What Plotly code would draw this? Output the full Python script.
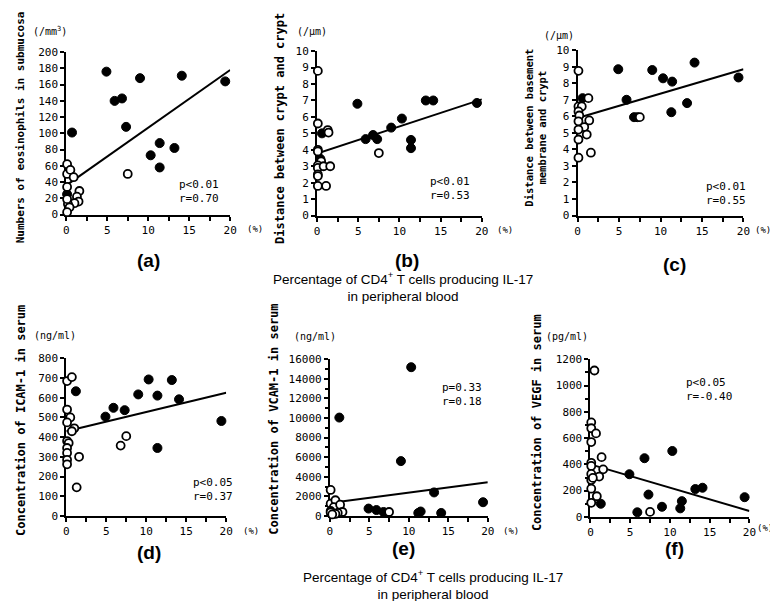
import plotly.graph_objects as go

W, H = 778, 601

# ---------------- data ----------------
pct_ticks = [0, 5, 10, 15, 20]
fit_x = [0, 20]

# (a) Numbers of eosinophils in submucosa (/mm3)
a_filled_x = [0.1, 0.7, 4.9, 5.9, 6.8, 7.3, 9.0, 10.3, 11.4, 11.4, 13.2, 14.1, 19.4]
a_filled_y = [25, 101, 176, 140, 143, 108, 168, 73, 88, 58, 82, 171, 164]
a_open_x = [0.1, 0.1, 0.5, 0.9, 0.1, 1.6, 1.3, 1.5, 1.0, 0.2, 0.4, 0.1, 0.1, 7.5]
a_open_y = [62, 50, 55, 46, 34, 29, 22, 16, 14, 13, 9, 3, 19, 50]
a_fit = [36, 178]

# (b) Distance between crypt and crypt (/um)
b_filled_x = [0.6, 0.4, 4.9, 5.9, 6.8, 7.3, 9.0, 10.3, 11.4, 11.4, 13.2, 14.1, 19.4]
b_filled_y = [5.0, 3.45, 6.8, 4.65, 4.9, 4.65, 5.35, 5.9, 4.6, 4.1, 7.0, 7.0, 6.85]
b_open_x = [0.1, 0.1, 1.3, 1.4, 0.1, 0.1, 0.5, 0.1, 0.1, 0.8, 1.6, 0.1, 0.1, 0.1, 1.1, 7.5]
b_open_y = [8.8, 5.6, 5.2, 5.05, 4.0, 3.9, 3.3, 3.05, 2.9, 3.0, 3.0, 2.5, 2.4, 1.8, 1.8, 3.8]
b_fit = [3.77, 7.07]

# (c) Distance between basement membrane and crypt (/um)
c_filled_x = [0.6, 4.9, 5.9, 6.8, 7.2, 9.0, 10.3, 11.4, 11.3, 13.2, 14.1, 19.4]
c_filled_y = [7.1, 8.85, 7.0, 5.95, 5.95, 8.8, 8.3, 8.1, 6.25, 6.8, 9.25, 8.35]
c_open_x = [0.1, 0.1, 0.5, 0.1, 0.2, 1.3, 1.4, 0.1, 0.8, 0.1, 1.1, 0.1, 1.6, 0.1, 7.5]
c_open_y = [8.75, 6.6, 6.6, 6.3, 6.05, 7.1, 5.75, 5.7, 5.35, 5.2, 4.9, 4.6, 3.8, 3.5, 5.95]
c_fit = [5.9, 8.85]

# (d) Concentration of ICAM-1 in serum (ng/ml)
d_filled_x = [1.2, 4.9, 5.9, 7.3, 9.0, 10.3, 11.4, 11.4, 13.2, 14.1, 19.4]
d_filled_y = [633, 504, 549, 537, 617, 693, 611, 345, 690, 592, 482]
d_open_x = [0.1, 0.7, 0.1, 0.5, 0.1, 1.0, 0.7, 0.1, 0.3, 0.1, 0.1, 0.1, 0.1, 1.6, 1.3, 6.8, 7.5]
d_open_y = [685, 705, 540, 500, 475, 445, 430, 380, 370, 345, 320, 285, 262, 300, 145, 357, 405]
d_fit = [430, 625]

# (e) Concentration of VCAM-1 in serum (ng/ml)
e_filled_x = [1.2, 4.9, 5.9, 6.8, 9.0, 10.3, 11.2, 11.5, 13.2, 14.1, 19.4]
e_filled_y = [10050, 750, 600, 400, 5600, 15200, 300, 450, 2400, 300, 1400]
e_open_x = [0.1, 0.1, 0.7, 0.5, 1.3, 0.1, 0.1, 1.6, 1.0, 0.7, 0.3, 7.5]
e_open_y = [2650, 1250, 1600, 900, 1150, 500, 350, 400, 300, 200, 150, 400]
e_fit = [1330, 3430]

# (f) Concentration of VEGF in serum (pg/ml)
f_filled_x = [1.3, 4.9, 5.9, 6.8, 7.3, 9.0, 10.3, 11.3, 11.5, 13.2, 14.1, 19.4]
f_filled_y = [100, 325, 35, 447, 170, 77, 502, 65, 120, 212, 222, 150]
f_open_x = [0.5, 0.1, 0.1, 0.7, 0.1, 1.4, 1.6, 0.1, 0.1, 0.1, 1.1, 0.1, 0.3, 0.1, 0.8, 0.1, 7.5]
f_open_y = [1115, 720, 675, 636, 570, 455, 362, 412, 388, 327, 307, 280, 297, 215, 157, 107, 38]
f_fit = [400, 45]

y_titles = [
    "Numbers of eosinophils in submucosa",
    "Distance between crypt and crypt",
    "Distance between basement<br>membrane and crypt",
    "Concentration of ICAM-1 in serum",
    "Concentration of VCAM-1 in serum",
    "Concentration of VEGF in serum",
]
units = ["(/mm<sup>3</sup>)", "(/μm)", "(/μm)", "(ng/ml)", "(ng/ml)", "(pg/ml)"]
stats = ["p<0.01<br>r=0.70", "p<0.01<br>r=0.53", "p<0.01<br>r=0.55",
         "p<0.05<br>r=0.37", "p=0.33<br>r=0.18", "p<0.05<br>r=-0.40"]
panel_labels = ["(a)", "(b)", "(c)", "(d)", "(e)", "(f)"]
x_title = "Percentage of CD4<sup>+</sup> T cells producing IL-17<br>in peripheral blood"

data = [
    (a_filled_x, a_filled_y, a_open_x, a_open_y, a_fit, 200, 20, None),
    (b_filled_x, b_filled_y, b_open_x, b_open_y, b_fit, 10, 1, None),
    (c_filled_x, c_filled_y, c_open_x, c_open_y, c_fit, 10, 1, None),
    (d_filled_x, d_filled_y, d_open_x, d_open_y, d_fit, 800, 100, None),
    (e_filled_x, e_filled_y, e_open_x, e_open_y, e_fit, 16000, 2000, 1000),
    (f_filled_x, f_filled_y, f_open_x, f_open_y, f_fit, 1200, 200, 100),
]

# ---------------- geometry (pixels) ----------------
boxes = [  # x0, x1, ytop, ybottom
    (56, 222, 39, 205),
    (310, 477, 38, 206),
    (574, 742, 37, 206),
    (56, 218, 352, 513),
    (323, 483, 353, 513),
    (587, 748, 353, 514),
]
ytitle_pos = [(10, 116, 11), (273, 117, 12), (532, 116, 10.5),
              (10, 415, 12), (266, 414, 12), (533, 418, 12)]
unit_pos = [(40, 17), (305, 18), (555, 22), (45, 329), (308, 330), (563, 330)]
stats_pos = [(168, 166), (422, 163), (702, 168), (182, 470), (435, 373), (682, 368)]
label_pos = [(139, 252), (401, 252), (672, 256), (140, 550), (398, 546), (672, 546)]
pct_pos = [(247, 220), (500, 221), (762, 221), (243, 528), (507, 528), (764, 525)]
xtitle_pos = [(397, 279), (427, 583)]

MONO = "DejaVu Sans Mono, Liberation Mono, monospace"
SANS = "Liberation Sans, Arial, sans-serif"


def px(x):
    return x / W


def py(y):
    return 1 - y / H


fig = go.Figure()
layout = dict(
    width=W, height=H, margin=dict(l=0, r=0, t=0, b=0),
    paper_bgcolor="white", plot_bgcolor="white", showlegend=False,
    annotations=[],
)

for i, (fx, fy, ox, oy, fit, ymax, dt, mdt) in enumerate(data, 1):
    xa = "x" if i == 1 else f"x{i}"
    ya = "y" if i == 1 else f"y{i}"
    fig.add_trace(go.Scatter(x=fit_x, y=fit, mode="lines",
                             line=dict(color="black", width=2),
                             xaxis=xa, yaxis=ya, hoverinfo="skip"))
    fig.add_trace(go.Scatter(x=fx, y=fy, mode="markers", cliponaxis=False,
                             marker=dict(size=9, color="black",
                                         line=dict(color="black", width=1)),
                             xaxis=xa, yaxis=ya))
    fig.add_trace(go.Scatter(x=ox, y=oy, mode="markers", cliponaxis=False,
                             marker=dict(size=8, color="white",
                                         line=dict(color="black", width=1.8)),
                             xaxis=xa, yaxis=ya))
    x0, x1, yt, yb = boxes[i - 1]
    axis_common = dict(showline=True, linecolor="black", linewidth=2,
                       ticks="outside", ticklen=4, tickwidth=1.5,
                       tickcolor="black", showgrid=False, zeroline=False,
                       layer="below traces", exponentformat="none",
                       tickformat="d",
                       tickfont=dict(family=MONO, size=11, color="black"))
    layout[f"xaxis{i}"] = dict(
        domain=[px(x0), px(x1)], anchor=ya, range=[0, 20],
        tickmode="array", tickvals=pct_ticks,
        minor=dict(dtick=2.5, tick0=0, ticks="outside", ticklen=4,
                   tickwidth=1.5, tickcolor="black", showgrid=False),
        **axis_common)
    yax = dict(domain=[py(yb), py(yt)], anchor=xa, range=[0, ymax],
               dtick=dt, tick0=0, **axis_common)
    if mdt:
        yax["minor"] = dict(dtick=mdt, ticks="outside", ticklen=3,
                            tickwidth=1.5, tickcolor="black", showgrid=False)
    layout[f"yaxis{i}"] = yax

    anns = layout["annotations"]
    tx, ty, ts = ytitle_pos[i - 1]
    anns.append(dict(x=px(tx), y=py(ty), xref="paper", yref="paper",
                     text=y_titles[i - 1], textangle=-90, showarrow=False,
                     xanchor="center", yanchor="middle", align="center",
                     font=dict(family=MONO, size=ts, color="black", weight="bold")))
    ux, uy = unit_pos[i - 1]
    anns.append(dict(x=px(ux), y=py(uy), xref="paper", yref="paper",
                     text=units[i - 1], showarrow=False,
                     xanchor="center", yanchor="middle",
                     font=dict(family=MONO, size=10, color="black")))
    sx, sy = stats_pos[i - 1]
    anns.append(dict(x=px(sx), y=py(sy), xref="paper", yref="paper",
                     text=stats[i - 1], showarrow=False, align="left",
                     xanchor="left", yanchor="top",
                     font=dict(family=MONO, size=11, color="black")))
    lx, ly = label_pos[i - 1]
    anns.append(dict(x=px(lx), y=py(ly), xref="paper", yref="paper",
                     text=panel_labels[i - 1], showarrow=False,
                     xanchor="center", yanchor="middle",
                     font=dict(family=SANS, size=19, color="black", weight="bold")))
    qx, qy = pct_pos[i - 1]
    anns.append(dict(x=px(qx), y=py(qy), xref="paper", yref="paper",
                     text="(%)", showarrow=False,
                     xanchor="center", yanchor="middle",
                     font=dict(family=MONO, size=9, color="black")))

for cx, cy in xtitle_pos:
    layout["annotations"].append(dict(
        x=px(cx), y=py(cy), xref="paper", yref="paper", text=x_title,
        showarrow=False, xanchor="center", yanchor="middle", align="center",
        font=dict(family=SANS, size=13.5, color="black")))

layout["xaxis"] = layout.pop("xaxis1")
layout["yaxis"] = layout.pop("yaxis1")
fig.update_layout(**layout)
fig.write_html("out.html")
